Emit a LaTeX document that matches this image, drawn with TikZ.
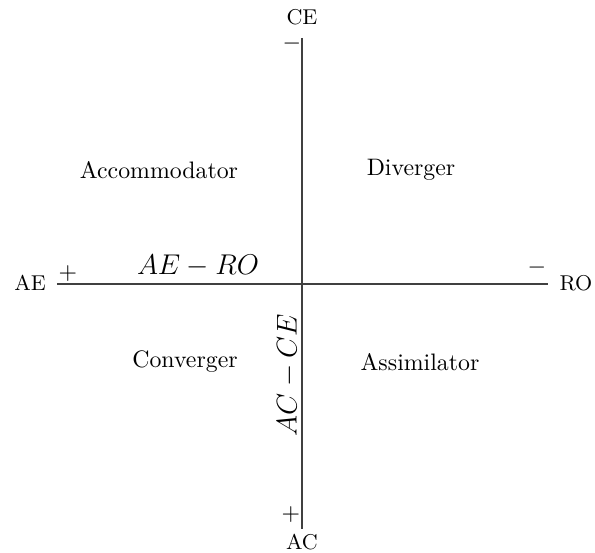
\documentclass[tikz,border=0pt]{standalone}
\usepackage{tikz}
\usetikzlibrary{positioning}
\tikzset{
  axislabel/.style={inner sep=1pt, font=\small},
  quadrant/.style={inner sep=1pt, font=\normalsize},
  signlabel/.style={inner sep=0pt, font=\normalsize},
  dimlabel/.style={inner sep=1pt, font=\large},
  axisline/.style={line width=0.5pt, black!75}
}
\begin{document}
\begin{tikzpicture}[x=0.42pt, y=-0.42pt]
  \useasboundingbox (0,0) rectangle (595,553);
  % axes
  \coordinate (top) at (302,38);
  \coordinate (bottom) at (302,529);
  \coordinate (left) at (57,284);
  \coordinate (right) at (548,284);
  \draw[axisline] (top) -- (bottom);
  \draw[axisline] (left) -- (right);
  % axis ends
  \node[axislabel] (ce) at (302,17) {CE};
  \node[axislabel] (ac) at (302,542) {AC};
  \node[axislabel] (ae) at (30,283) {AE};
  \node[axislabel] (ro) at (576,283) {RO};
  \node[signlabel] (minustop) at (292,44) {$-$};
  \node[signlabel] (plusbottom) at (291,515) {$+$};
  \node[signlabel] (plusleft) at (68,274) {$+$};
  \node[signlabel] (minusright) at (537,268) {$-$};
  % dimensions
  \node[dimlabel] (aero) at (198,266) {$AE-RO$};
  \node[dimlabel, rotate=90] (acce) at (288,375) {$AC-CE$};
  % styles
  \node[quadrant] (accom) at (159,170) {Accommodator};
  \node[quadrant] (diver) at (411,170) {Diverger};
  \node[quadrant] (conver) at (185,362) {Converger};
  \node[quadrant] (assim) at (420,362) {Assimilator};
\end{tikzpicture}
\end{document}
